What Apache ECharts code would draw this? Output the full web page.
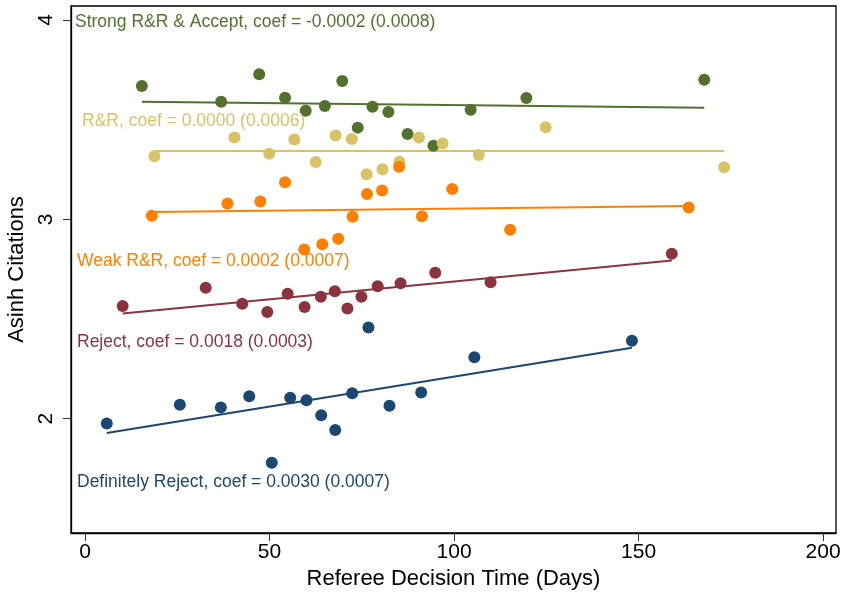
<!DOCTYPE html>
<html>
<head>
<meta charset="utf-8">
<script src="https://cdn.jsdelivr.net/npm/echarts@6/dist/echarts.min.js"></script>
<style>
  html, body { margin: 0; padding: 0; background: #fff; }
  #chart { width: 843px; height: 597px; }
</style>
</head>
<body>
<div id="chart"></div>
<script>
// ticks
var xTicks = [0, 50, 100, 150, 200];
var yTicks = [2, 3, 4];

// binned scatter points [days, asinh citations]
var strongPts = [[15.4, 3.669], [36.9, 3.590], [47.2, 3.728], [54.2, 3.610], [59.8, 3.545],
    [65.0, 3.568], [69.7, 3.694], [73.9, 3.460], [77.9, 3.565], [82.2, 3.538],
    [87.4, 3.428], [94.4, 3.369], [104.5, 3.550], [119.6, 3.609], [167.8, 3.700]];
var rrPts = [[18.8, 3.316], [40.5, 3.410], [49.9, 3.329], [56.7, 3.401], [62.5, 3.288],
    [67.9, 3.421], [72.3, 3.403], [76.3, 3.226], [80.6, 3.251], [85.2, 3.289],
    [90.5, 3.410], [96.9, 3.381], [106.7, 3.323], [124.8, 3.462], [173.2, 3.261]];
var weakPts = [[18.1, 3.018], [38.6, 3.080], [47.5, 3.090], [54.2, 3.186], [59.4, 2.849],
    [64.3, 2.875], [68.6, 2.903], [72.5, 3.013], [76.4, 3.127], [80.5, 3.145],
    [85.1, 3.264], [91.3, 3.015], [99.5, 3.152], [115.2, 2.948], [163.6, 3.060]];
var rejectPts = [[10.2, 2.565], [32.7, 2.657], [42.6, 2.577], [49.4, 2.535], [54.9, 2.627],
    [59.5, 2.560], [63.9, 2.612], [67.7, 2.639], [71.1, 2.553], [74.9, 2.612],
    [79.3, 2.665], [85.5, 2.679], [94.9, 2.732], [109.9, 2.684], [159.0, 2.827]];
var defRejectPts = [[5.9, 1.976], [25.7, 2.070], [36.8, 2.057], [44.5, 2.113], [50.6, 1.779],
    [55.6, 2.105], [60.0, 2.093], [64.0, 2.018], [67.8, 1.943], [72.4, 2.128],
    [76.8, 2.458], [82.5, 2.065], [91.1, 2.132], [105.5, 2.309], [148.2, 2.391]];

// fitted lines (endpoints)
var strongFit = [[15.4, 3.590], [167.8, 3.560]];
var rrFit = [[18.8, 3.343], [173.2, 3.343]];
var weakFit = [[18.1, 3.037], [163.6, 3.067]];
var rejectFit = [[10.2, 2.528], [159.0, 2.794]];
var defRejectFit = [[5.9, 1.929], [148.2, 2.356]];

var groups = [
    { name: 'Strong R&R & Accept', coef: '-0.0002', se: '0.0008', color: '#52712e', pts: strongPts, fit: strongFit, lx: 75, ly: 21 },
    { name: 'R&R', coef: '0.0000', se: '0.0006', color: '#d9c266', pts: rrPts, fit: rrFit, lx: 82, ly: 120 },
    { name: 'Weak R&R', coef: '0.0002', se: '0.0007', color: '#ff8000', pts: weakPts, fit: weakFit, lx: 77, ly: 260 },
    { name: 'Reject', coef: '0.0018', se: '0.0003', color: '#8c333e', pts: rejectPts, fit: rejectFit, lx: 77, ly: 341 },
    { name: 'Definitely Reject', coef: '0.0030', se: '0.0007', color: '#1b4872', pts: defRejectPts, fit: defRejectFit, lx: 77, ly: 481 }
];

var FONT = 'Liberation Sans, Arial, Helvetica, sans-serif';

var series = [];
var graphics = [];
groups.forEach(function (g) {
    series.push({
        type: 'scatter',
        data: g.pts,
        symbolSize: 12,
        itemStyle: { color: g.color, opacity: 1 },
        z: 3
    });
    series.push({
        type: 'line',
        data: g.fit,
        symbol: 'none',
        lineStyle: { color: g.color, width: 2 },
        z: 2
    });
    graphics.push({
        type: 'text',
        left: g.lx,
        top: g.ly - 8,
        style: {
            text: g.name + ', coef = ' + g.coef + ' (' + g.se + ')',
            fill: g.color,
            font: '17.5px ' + FONT
        },
        z: 10
    });
});

var chart = echarts.init(document.getElementById('chart'), null, { renderer: 'canvas' });
chart.setOption({
    animation: false,
    backgroundColor: '#fff',
    grid: {
        left: 71, top: 6, right: 7, bottom: 64,
        outerBoundsMode: 'none',
        show: true, borderColor: '#000', borderWidth: 1.3, backgroundColor: '#fff'
    },
    xAxis: {
        type: 'value',
        min: -3.8, max: 203.5,
        name: 'Referee Decision Time (Days)',
        nameLocation: 'middle',
        nameGap: 35,
        nameTextStyle: { fontFamily: FONT, fontSize: 22, color: '#000' },
        axisLine: { show: true, onZero: false, lineStyle: { color: '#000', width: 1.3 } },
        axisTick: { show: true, length: 8, customValues: xTicks, lineStyle: { color: '#333', width: 1 } },
        axisLabel: { customValues: xTicks, fontFamily: FONT, fontSize: 21, color: '#000', margin: 9 },
        splitLine: { show: false }
    },
    yAxis: {
        type: 'value',
        min: 1.427, max: 4.07,
        name: 'Asinh Citations',
        nameLocation: 'middle',
        nameGap: 37,
        nameTextStyle: { fontFamily: FONT, fontSize: 22, color: '#000' },
        axisLine: { show: true, onZero: false, lineStyle: { color: '#000', width: 1.3 } },
        axisTick: { show: true, length: 8, customValues: yTicks, lineStyle: { color: '#333', width: 1 } },
        axisLabel: { customValues: yTicks, rotate: 90, fontFamily: FONT, fontSize: 21, color: '#000', margin: 14 },
        splitLine: { show: false }
    },
    series: series,
    graphic: graphics
});
</script>
</body>
</html>
